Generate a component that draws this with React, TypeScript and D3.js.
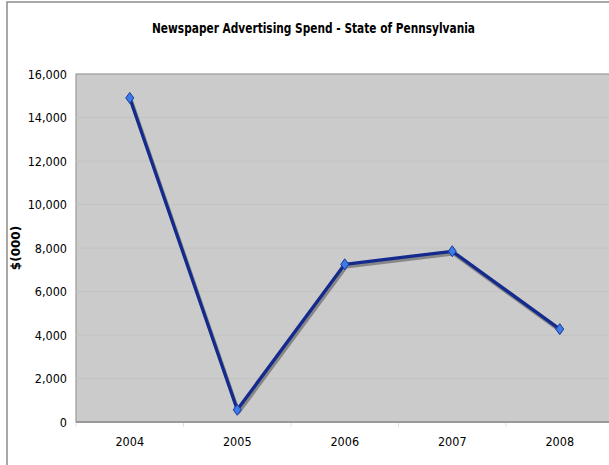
import React, { useEffect, useRef } from 'react';
import * as d3 from 'd3';

const years = ['2004', '2005', '2006', '2007', '2008'];
const spend = [14900, 560, 7250, 7850, 4270];
const yTicks = [0, 2000, 4000, 6000, 8000, 10000, 12000, 14000, 16000];

const App = () => {
    const ref = useRef<SVGSVGElement>(null);

    useEffect(() => {
        const svg = d3.select(ref.current);
        svg.selectAll('*').remove();

        const left = 76, top = 74, bottom = 422;
        const bandW = 107.5;
        const font = '"DejaVu Sans Condensed", "DejaVu Sans", sans-serif';

        // outer chart frame (right side is cropped)
        svg.append('rect')
            .attr('x', 7).attr('y', 2)
            .attr('width', 700).attr('height', 600)
            .attr('fill', '#fff')
            .attr('stroke', '#8c8c8c').attr('stroke-width', 1.5);

        svg.append('text')
            .attr('x', 313.5).attr('y', 33)
            .attr('text-anchor', 'middle')
            .attr('textLength', 323).attr('lengthAdjust', 'spacingAndGlyphs')
            .style('font-family', font)
            .style('font-weight', 'bold').style('font-size', '14px')
            .text('Newspaper Advertising Spend - State of Pennsylvania');

        var x = d3.scaleBand().domain(years).range([left, left + bandW * years.length]);
        var y = d3.scaleLinear().domain([0, 16000]).range([bottom, top]);

        // plot area
        svg.append('rect')
            .attr('x', left).attr('y', top)
            .attr('width', bandW * years.length).attr('height', bottom - top)
            .attr('fill', '#cbcbcb')
            .attr('stroke', '#9a9a9a').attr('stroke-width', 1.2);

        // gridlines
        svg.append('g')
            .selectAll('line')
            .data(yTicks.slice(1, -1))
            .enter().append('line')
            .attr('x1', left).attr('x2', left + bandW * years.length)
            .attr('y1', d => y(d)).attr('y2', d => y(d))
            .attr('stroke', '#c2c2c2').attr('stroke-width', 1);

        // y axis labels
        var yAxis = svg.append('g')
            .attr('transform', 'translate(' + left + ',0)')
            .call(d3.axisLeft(y).tickValues(yTicks).tickSize(0).tickPadding(9).tickFormat(d3.format(',')));
        yAxis.select('.domain').remove();
        yAxis.selectAll('text')
            .style('font-family', font)
            .style('font-size', '12.5px').attr('fill', '#000');

        // x axis
        var xAxis = svg.append('g')
            .attr('transform', 'translate(0,' + bottom + ')')
            .call(d3.axisBottom(x).tickSize(0).tickPadding(15));
        xAxis.select('.domain').remove();
        xAxis.selectAll('text')
            .style('font-family', font)
            .style('font-size', '12.5px').attr('fill', '#000');

        // category separators below axis
        svg.append('g')
            .selectAll('line')
            .data(years)
            .enter().append('line')
            .attr('x1', d => x(d)!).attr('x2', d => x(d)!)
            .attr('y1', bottom).attr('y2', bottom + 5)
            .attr('stroke', '#e0e0e0');

        svg.append('line')
            .attr('x1', left).attr('x2', left + bandW * years.length)
            .attr('y1', bottom).attr('y2', bottom)
            .attr('stroke', '#999').attr('stroke-width', 2);

        svg.append('text')
            .attr('transform', 'translate(20,248) rotate(-90)')
            .attr('text-anchor', 'middle')
            .style('font-family', '"DejaVu Sans", sans-serif')
            .style('font-weight', 'bold').style('font-size', '12px')
            .text('$(000)');

        var pts = years.map((yr, i) => [x(yr)! + bandW / 2, y(spend[i])] as [number, number]);
        var line = d3.line();

        // shadow
        svg.append('path')
            .attr('d', line(pts.map(p => [p[0] + 1.5, p[1] + 2.5] as [number, number])))
            .attr('fill', 'none').attr('stroke', '#6a6a6a').attr('stroke-width', 3.5)
            .attr('stroke-linejoin', 'round').attr('opacity', 0.7);

        svg.append('path')
            .attr('d', line(pts))
            .attr('fill', 'none').attr('stroke', '#142a8c').attr('stroke-width', 3.3)
            .attr('stroke-linejoin', 'round');

        svg.append('g')
            .selectAll('path')
            .data(pts)
            .enter().append('path')
            .attr('d', d => 'M' + d[0] + ',' + (d[1] - 5.5) + 'L' + (d[0] + 4) + ',' + d[1] + 'L' + d[0] + ',' + (d[1] + 5.5) + 'L' + (d[0] - 4) + ',' + d[1] + 'Z')
            .attr('fill', '#3d7be8').attr('stroke', '#1a3a9c').attr('stroke-width', 1);
    }, []);

    return (
        <svg ref={ref} width={609} height={465} style={{ position: 'absolute', left: 0, top: 0 }} />
    );
};

export default App;
